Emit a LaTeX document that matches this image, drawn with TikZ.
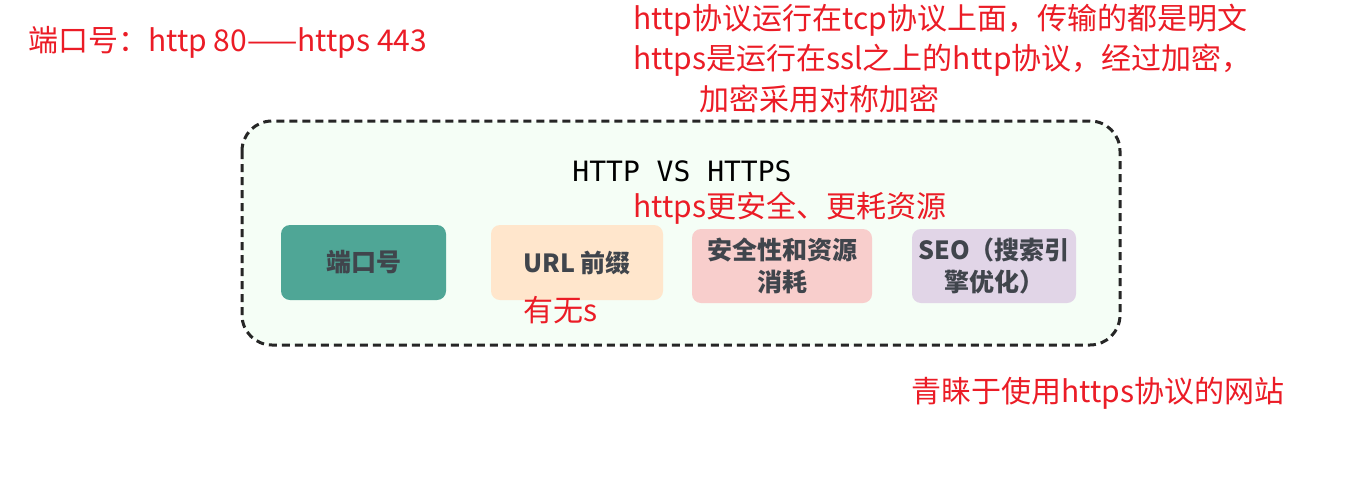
\documentclass[tikz,border=0pt]{standalone}
\usepackage{fontspec}
\newfontfamily\cjk{Noto Sans CJK SC}
\newfontfamily\titlemono{DejaVu Sans Mono}
\newlength{\du}
\setlength{\du}{0.75pt}
\definecolor{notered}{rgb}{0.920000, 0.110000, 0.150000}
\definecolor{boxtext}{rgb}{0.250000, 0.270000, 0.300000}
\tikzset{
  keybox/.style={rounded corners=9\du, inner sep=0pt, align=center,
    text=boxtext, font=\cjk\bfseries\fontsize{18.75}{24}\selectfont},
  note/.style={anchor=west, inner sep=0pt, text=notered,
    font=\cjk\fontsize{22.5}{27}\selectfont},
}

\begin{document}
\begin{tikzpicture}
\pgftransformxscale{1.000000}
\pgftransformyscale{-1.000000}
\useasboundingbox (0\du,0\du) rectangle (1350\du,486\du);
% outer dashed frame
\definecolor{dialinecolor}{rgb}{0.960000, 0.995000, 0.965000}
\pgfsetfillcolor{dialinecolor}
\definecolor{dialinecolor}{rgb}{0.150000, 0.150000, 0.150000}
\pgfsetstrokecolor{dialinecolor}
\pgfsetlinewidth{3.000000\du}
\pgfsetdash{{8\du}{5\du}}{0pt}
\filldraw[rounded corners=30\du] (242\du,121\du) rectangle (1120\du,345\du);
\pgfsetdash{}{0pt}
% title
\node[text=black, font=\titlemono\fontsize{21}{24}\selectfont] (title) at (682\du,171\du){HTTP VS HTTPS};
% four boxes
\definecolor{dialinecolor}{rgb}{0.310000, 0.650000, 0.590000}
\node[keybox, fill=dialinecolor, minimum width=165\du, minimum height=75\du] (port) at (363.5\du,262.5\du){端口号};
\definecolor{dialinecolor}{rgb}{1.000000, 0.902000, 0.800000}
\node[keybox, fill=dialinecolor, minimum width=172\du, minimum height=75\du] (url) at (577\du,262.5\du){URL 前缀};
\definecolor{dialinecolor}{rgb}{0.973000, 0.808000, 0.800000}
\node[keybox, fill=dialinecolor, minimum width=180\du, minimum height=74\du] (safe) at (782\du,266\du){安全性和资源\\消耗};
\definecolor{dialinecolor}{rgb}{0.882000, 0.835000, 0.906000}
\node[keybox, fill=dialinecolor, minimum width=164\du, minimum height=74\du] (seo) at (994\du,266\du){SEO（搜索引\\擎优化）};
% red notes
\node[note] (portnote) at (27\du,42\du){端口号：http 80——https 443};
\node[note] (tcpnote) at (632\du,20\du){http协议运行在tcp协议上面，传输的都是明文};
\node[note] (sslnote) at (632\du,60\du){https是运行在ssl之上的http协议，经过加密，};
\node[note] (ssltail) at (698\du,99\du){加密采用对称加密};
\node[note] (costnote) at (632\du,208\du){https更安全、更耗资源};
\node[note] (urlnote) at (522\du,310\du){有无s};
\node[note] (seonote) at (910\du,393\du){青睐于使用https协议的网站};
\end{tikzpicture}
\end{document}
